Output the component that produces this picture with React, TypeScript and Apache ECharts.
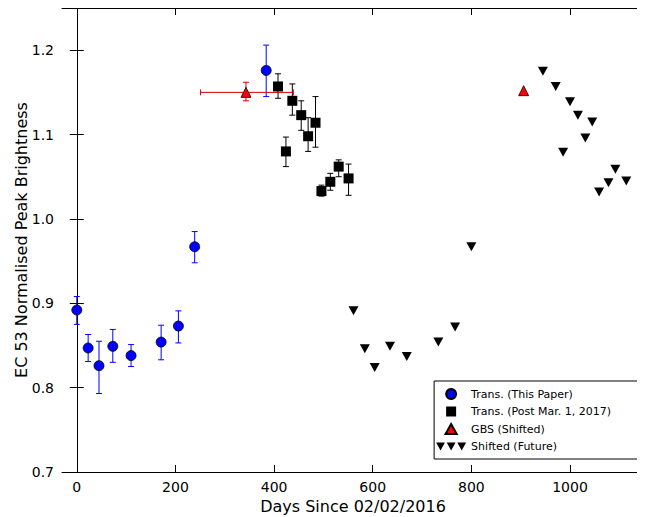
import React, { useEffect, useRef } from 'react';
import * as echarts from 'echarts';

// [days, brightness, errLow, errHigh]
const transPaper = [
  [0, 0.892, 0.875, 0.908],
  [23, 0.847, 0.831, 0.863],
  [45, 0.826, 0.793, 0.855],
  [73, 0.849, 0.83, 0.869],
  [110, 0.838, 0.825, 0.851],
  [171, 0.854, 0.833, 0.874],
  [206, 0.873, 0.853, 0.891],
  [239, 0.967, 0.948, 0.985],
  [384, 1.176, 1.145, 1.206],
];

const transPost = [
  [408, 1.157, 1.143, 1.172],
  [424, 1.08, 1.062, 1.097],
  [437, 1.14, 1.123, 1.16],
  [455, 1.123, 1.105, 1.14],
  [469, 1.098, 1.08, 1.12],
  [484, 1.114, 1.085, 1.145],
  [496, 1.033, 1.027, 1.04],
  [514, 1.044, 1.034, 1.054],
  [531, 1.062, 1.05, 1.07],
  [551, 1.048, 1.028, 1.065],
];

// [days, brightness, errLow, errHigh, xLow, xHigh]
const gbs = [
  [343, 1.15, 1.14, 1.162, 251, 439],
  [906, 1.152, 1.152, 1.152, 906, 906],
];

const future = [
  [561, 0.891], [584, 0.846], [604, 0.824], [635, 0.849], [669, 0.837],
  [733, 0.854], [767, 0.872], [800, 0.967], [945, 1.175], [971, 1.157],
  [986, 1.079], [1000, 1.139], [1016, 1.123], [1031, 1.096], [1045, 1.115],
  [1059, 1.032], [1078, 1.043], [1092, 1.059], [1114, 1.045],
];

const xTicks = [0, 200, 400, 600, 800, 1000];
const yTicks = [0.7, 0.8, 0.9, 1.0, 1.1, 1.2];

const triDown = 'path://M0,0L10,0L5,9Z';
const triDown3 = 'path://M0,0L10,0L5,9ZM12,0L22,0L17,9ZM24,0L34,0L29,9Z';
const circleIcon = 'path://M5,0A5,5,0,1,1,4.99,0Z';
const rectIcon = 'path://M0,0L10,0L10,10L0,10Z';
const triUp = 'path://M5,0L10,9L0,9Z';

const yErr = (color: string) => (params: any, api: any) => {
  const x = api.value(0);
  const lo = api.coord([x, api.value(2)]);
  const hi = api.coord([x, api.value(3)]);
  const style = { stroke: color, lineWidth: 1 };
  return {
    type: 'group',
    children: [
      { type: 'line', shape: { x1: lo[0], y1: lo[1], x2: hi[0], y2: hi[1] }, style },
      { type: 'line', shape: { x1: lo[0] - 3, y1: lo[1], x2: lo[0] + 3, y2: lo[1] }, style },
      { type: 'line', shape: { x1: hi[0] - 3, y1: hi[1], x2: hi[0] + 3, y2: hi[1] }, style },
    ],
  };
};

const xErr = (color: string) => (params: any, api: any) => {
  const y = api.value(1);
  const l = api.coord([api.value(4), y]);
  const r = api.coord([api.value(5), y]);
  const style = { stroke: color, lineWidth: 1 };
  const base: any = yErr(color)(params, api);
  base.children.push(
    { type: 'line', shape: { x1: l[0], y1: l[1], x2: r[0], y2: r[1] }, style },
    { type: 'line', shape: { x1: l[0], y1: l[1] - 3, x2: l[0], y2: l[1] + 3 }, style },
    { type: 'line', shape: { x1: r[0], y1: r[1] - 3, x2: r[0], y2: r[1] + 3 }, style },
  );
  return base;
};

const App: React.FC = () => {
  const chartRef = useRef<HTMLDivElement>(null);

  useEffect(() => {
    if (!chartRef.current) return;
    const chart = echarts.init(chartRef.current, null, { renderer: 'svg' });
    const tick = (vals: number[]) => ({ inside: true, length: 7, lineStyle: { color: '#000' }, customValues: vals });
    const line = { show: true, lineStyle: { color: '#000' } };
    chart.setOption({
      animation: false,
      textStyle: { fontFamily: 'DejaVu Sans' },
      grid: { left: 54, right: 1, top: 0, bottom: 45, outerBoundsMode: 'none', containLabel: false },
      graphic: [
        {
          type: 'text', x: 13, y: 232, rotation: Math.PI / 2,
          style: {
            text: 'EC 53 Normalised Peak Brightness', fontSize: 16, fill: '#000',
            fontFamily: 'DejaVu Sans', align: 'center', verticalAlign: 'middle',
          },
        },
      ],
      xAxis: [
        {
          type: 'value', min: -30, max: 1150,
          name: 'Days Since 02/02/2016', nameLocation: 'middle', nameGap: 25,
          nameTextStyle: { fontSize: 16, color: '#000' },
          axisLabel: { color: '#000', fontSize: 14, customValues: xTicks, formatter: (v: number) => String(v) },
          axisTick: tick(xTicks), axisLine: line, splitLine: { show: false },
        },
        {
          type: 'value', min: -30, max: 1150, position: 'top',
          axisLabel: { show: false }, axisTick: tick(xTicks), axisLine: line, splitLine: { show: false },
        },
      ],
      yAxis: [
        {
          type: 'value', min: 0.7, max: 1.25,
          axisLabel: { color: '#000', fontSize: 14, formatter: (v: number) => v.toFixed(1), customValues: yTicks },
          axisTick: tick(yTicks), axisLine: line, splitLine: { show: false },
        },
        {
          type: 'value', min: 0.7, max: 1.25, position: 'right',
          axisLabel: { show: false }, axisTick: tick(yTicks), axisLine: line, splitLine: { show: false },
        },
      ],
      legend: {
        orient: 'vertical', right: 4, bottom: 58, itemGap: 6,
        itemWidth: 30, itemHeight: 10, symbolKeepAspect: true,
        backgroundColor: '#fff', borderColor: '#000', borderWidth: 1, borderRadius: 0,
        padding: [7, 30, 7, 2],
        textStyle: { fontSize: 11, color: '#000' },
        data: [
          { name: 'Trans. (This Paper)', icon: circleIcon },
          { name: 'Trans. (Post Mar. 1, 2017)', icon: rectIcon },
          { name: 'GBS (Shifted)', icon: triUp },
          { name: 'Shifted (Future)', icon: triDown3, itemStyle: { color: '#000' } },
        ],
      },
      series: [
        { type: 'custom', renderItem: yErr('#0000ff'), data: transPaper, z: 1, silent: true },
        { type: 'custom', renderItem: yErr('#000'), data: transPost, z: 1, silent: true },
        { type: 'custom', renderItem: xErr('#cc0000'), data: gbs.slice(0, 1), z: 1, silent: true },
        {
          name: 'Trans. (This Paper)', type: 'scatter', symbol: 'circle', symbolSize: 10, z: 3,
          itemStyle: { color: '#0000ff', borderColor: '#000', borderWidth: 0.8, opacity: 1 },
          data: transPaper.map((d) => [d[0], d[1]]),
        },
        {
          name: 'Trans. (Post Mar. 1, 2017)', type: 'scatter', symbol: 'rect', symbolSize: 10, z: 3,
          itemStyle: { color: '#000', opacity: 1 },
          data: transPost.map((d) => [d[0], d[1]]),
        },
        {
          name: 'GBS (Shifted)', type: 'scatter', symbol: 'triangle', symbolSize: 10, z: 3,
          itemStyle: { color: '#ff0000', borderColor: '#000', borderWidth: 0.8, opacity: 1 },
          data: gbs.map((d) => [d[0], d[1]]),
        },
        {
          name: 'Shifted (Future)', type: 'scatter', symbol: triDown, symbolSize: [10, 9], z: 3,
          itemStyle: { color: '#000', opacity: 1 },
          data: future,
        },
      ],
    });
    return () => chart.dispose();
  }, []);

  return <div ref={chartRef} style={{ width: 637, height: 509 }} />;
};

export default App;
